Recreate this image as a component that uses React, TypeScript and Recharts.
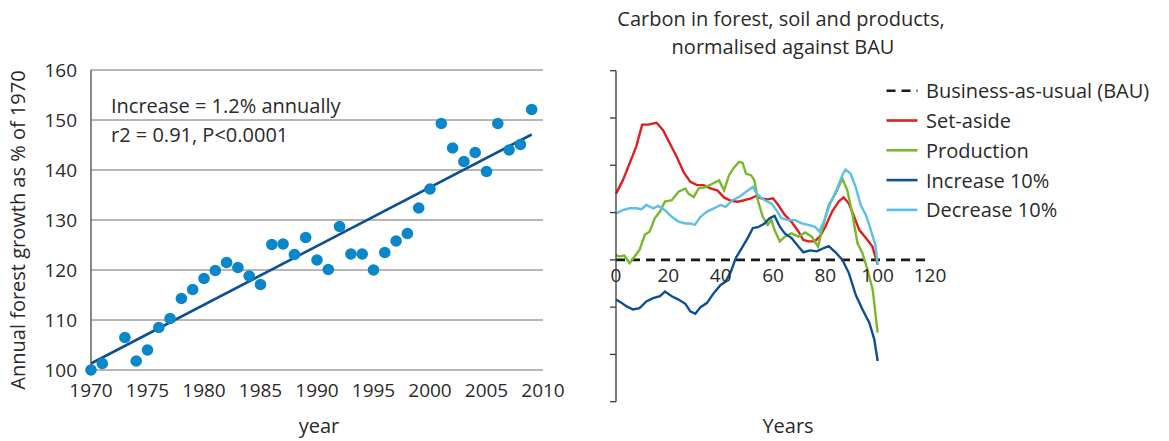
import {
  CartesianGrid,
  ComposedChart,
  Legend,
  Line,
  ReferenceDot,
  Scatter,
  XAxis,
  YAxis,
} from "recharts";

const FONT = "'Open Sans', Lato, sans-serif";
const TEXT = "#2a2a2a";
const DOT = "#0a86cb";
const TREND = "#0d4f94";
const RED = "#dc1f1f";
const GREEN = "#79b82a";
const DARK_BLUE = "#0d4f94";
const LIGHT_BLUE = "#5cbfe8";

// left: annual forest growth
const growthYears = [
  1970, 1971, 1973, 1974, 1975, 1976, 1977, 1978, 1979, 1980, 1981, 1982, 1983,
  1984, 1985, 1986, 1987, 1988, 1989, 1990, 1991, 1992, 1993, 1994, 1995, 1996,
  1997, 1998, 1999, 2000, 2001, 2002, 2003, 2004, 2005, 2006, 2007, 2008, 2009,
];
const growthValues = [
  100, 101.3, 106.5, 101.8, 104, 108.5, 110.3, 114.3, 116.1, 118.3, 119.9, 121.5,
  120.5, 118.8, 117.1, 125.1, 125.2, 123.1, 126.5, 122, 120.1, 128.7, 123.2, 123.2,
  120, 123.5, 125.8, 127.3, 132.4, 136.2, 149.3, 144.4, 141.7, 143.5, 139.7, 149.3,
  144, 145.1, 152.1,
];
const trendYears = [1970, 2009];
const trendValues = [101.3, 147.1];
const yearTicks = [1970, 1975, 1980, 1985, 1990, 1995, 2000, 2005, 2010];
const growthTicks = [100, 110, 120, 130, 140, 150, 160];

// right: carbon normalised against BAU, [year, value]
const carbonTicksX = [0, 20, 40, 60, 80, 100, 120];
const carbonTicksY = [-3, -2, -1, 0, 1, 2, 3, 4];
const bau: [number, number][] = [
  [0, 0],
  [120, 0],
];
const setAside: [number, number][] = [
  [0, 1.4], [2.6, 1.68], [5.2, 2.04], [7.7, 2.39], [10, 2.86], [12.3, 2.86],
  [15.5, 2.9], [18, 2.74], [20.6, 2.46], [23.2, 2.18], [25.8, 1.86], [28.4, 1.65],
  [31, 1.58], [33.5, 1.58], [36.1, 1.51], [38.7, 1.47], [41.3, 1.32], [43.9, 1.25],
  [46.5, 1.23], [49, 1.26], [51.6, 1.3], [53.5, 1.35], [55.5, 1.3], [58, 1.28],
  [60, 1.3], [62, 1.16], [64.5, 0.95], [67, 0.81], [69.7, 0.6], [71.6, 0.42],
  [73.5, 0.39], [76, 0.39], [78, 0.5], [80, 0.7], [82.6, 1.02], [85.2, 1.24],
  [87, 1.32], [89, 1.19], [91, 0.91], [93, 0.63], [95.5, 0.46], [98, 0.28], [100, -0.1],
];
const production: [number, number][] = [
  [0, 0.1], [1.3, 0.07], [3.2, 0.09], [5.2, -0.07], [7.1, 0.07], [9, 0.21],
  [11, 0.53], [12.9, 0.6], [14.8, 0.88], [16.8, 1.02], [18.7, 1.23], [21.3, 1.26],
  [23.9, 1.44], [26.5, 1.51], [27.7, 1.4], [29.7, 1.33], [31.6, 1.51], [34.2, 1.54],
  [36.8, 1.61], [39.4, 1.68], [41.3, 1.47], [43.2, 1.79], [45.2, 1.96], [47.1, 2.07],
  [48.4, 2.05], [49.7, 1.82], [51.6, 1.79], [52.9, 1.68], [54.2, 1.26], [56.1, 0.91],
  [58, 0.74], [59.4, 0.84], [60.6, 0.63], [62.6, 0.39], [64.5, 0.49], [67.1, 0.56],
  [69.7, 0.49], [72.3, 0.58], [74.8, 0.49], [77.2, 0.28], [78.7, 0.63], [81.3, 1.16],
  [83.9, 1.4], [86.5, 1.72], [88.4, 1.47], [90.3, 0.98], [92.3, 0.35], [94.2, 0.14],
  [96.1, -0.21], [98.1, -0.63], [100, -1.54],
];
const increase10: [number, number][] = [
  [0, -0.84], [1.9, -0.9], [3.9, -0.98], [6.5, -1.05], [9, -1.02], [11.6, -0.88],
  [14.2, -0.81], [16.8, -0.77], [18.7, -0.67], [21.3, -0.77], [23.9, -0.84],
  [26.5, -0.93], [28.4, -1.09], [30.3, -1.14], [32.3, -1.0], [34.8, -0.91],
  [37.4, -0.7], [40, -0.53], [41.9, -0.46], [43.9, -0.25], [45.8, 0.04], [48.4, 0.28],
  [50.3, 0.46], [52.3, 0.67], [54.2, 0.69], [56.8, 0.77], [58.7, 0.88], [60.6, 0.93],
  [62.6, 0.7], [64.5, 0.56], [67.1, 0.46], [69.7, 0.28], [71.6, 0.16], [74.2, 0.2],
  [76.8, 0.18], [79.4, 0.25], [81.3, 0.29], [83.9, 0.16], [86.5, 0], [89, -0.28],
  [91.6, -0.74], [94.2, -1.05], [96.8, -1.33], [98.7, -1.68], [100, -2.14],
];
const decrease10: [number, number][] = [
  [0, 0.98], [2.6, 1.05], [5.2, 1.09], [7.7, 1.09], [9.7, 1.07], [11.6, 1.16],
  [14.2, 1.09], [16.1, 1.14], [18.7, 1.05], [21.3, 0.91], [23.9, 0.81], [26.5, 0.77],
  [28.4, 0.77], [30.1, 0.74], [32.3, 0.91], [34.8, 1.02], [37.4, 1.09], [40, 1.16],
  [41.9, 1.12], [44.5, 1.26], [47.1, 1.33], [49.7, 1.44], [52.3, 1.54], [54.2, 1.37],
  [56.8, 1.26], [59.4, 1.19], [61.3, 1.05], [63.2, 0.88], [65.8, 0.84], [68.4, 0.84],
  [71, 0.77], [73.5, 0.74], [76.1, 0.7], [77.7, 0.6], [79.4, 0.81], [81.9, 1.19],
  [84.5, 1.51], [86.5, 1.79], [87.7, 1.91], [89.7, 1.82], [91.6, 1.54], [93.5, 1.16],
  [95.5, 0.95], [97.4, 0.63], [99.1, 0.32], [100, -0.1],
];

const legendOrder = [
  "Business-as-usual (BAU)",
  "Set-aside",
  "Production",
  "Increase 10%",
  "Decrease 10%",
];

const toPoints = (s: [number, number][]) => s.map(([x, y]) => ({ x, y }));

const growthData = growthYears.map((x, i) => ({ x, y: growthValues[i] }));
const trendData = trendYears.map((x, i) => ({ x, y: trendValues[i] }));

const tickStyle = { fill: TEXT, fontSize: 19, fontFamily: FONT };

function CarbonLegend({ payload }: any) {
  const items = [...(payload ?? [])].sort(
    (a: any, b: any) => legendOrder.indexOf(a.value) - legendOrder.indexOf(b.value)
  );
  return (
    <svg width={285} height={150} style={{ overflow: "visible" }}>
      {items.map((p: any, i: number) => (
        <g key={p.value} transform={`translate(0, ${10.7 + i * 29.8})`}>
          <line
            x1={1.5}
            x2={32.5}
            y1={0}
            y2={0}
            stroke={p.color}
            strokeWidth={2.6}
            strokeDasharray={p.value.startsWith("Business") ? "9 6" : undefined}
          />
          <text x={41} y={7.4} fill={TEXT} fontSize={20} fontFamily={FONT}>
            {p.value}
          </text>
        </g>
      ))}
    </svg>
  );
}

const NoTick = () => <g />;

export default function App() {
  return (
    <div style={{ position: "absolute", left: 0, top: 0, width: 1169, height: 441, background: "#fff" }}>
      <div style={{ position: "absolute", left: 0, top: 0 }}>
        <ComposedChart width={580} height={441} margin={{ top: 70, right: 37, bottom: 41, left: 0 }}>
          <CartesianGrid vertical={false} stroke="#6f6f6f" strokeWidth={1} horizontalValues={growthTicks} />
          <XAxis
            type="number"
            dataKey="x"
            domain={[1970, 2010]}
            ticks={yearTicks}
            axisLine={false}
            tickLine={false}
            tickSize={0}
            tickMargin={14}
            height={30}
            tick={tickStyle}
            interval={0}
          />
          <YAxis
            type="number"
            dataKey="y"
            domain={[100, 160]}
            ticks={growthTicks}
            width={91}
            axisLine={{ stroke: "#4a4a4a", strokeWidth: 1.3 }}
            tickLine={false}
            tickSize={0}
            tickMargin={14}
            tick={tickStyle}
            interval={0}
          />
          <Scatter
            data={growthData}
            dataKey="y"
            isAnimationActive={false}
            shape={(p: any) => <circle cx={p.cx} cy={p.cy} r={5.8} fill={DOT} />}
          />
          <Line
            data={trendData}
            dataKey="y"
            type="linear"
            stroke={TREND}
            strokeWidth={2.6}
            dot={false}
            isAnimationActive={false}
          />
        </ComposedChart>
      </div>

      <div style={{ position: "absolute", left: 580, top: 0 }}>
        <ComposedChart width={589} height={441} margin={{ top: 70.7, right: 239, bottom: 39.3, left: 0 }}>
          <XAxis type="number" dataKey="x" domain={[0, 120]} ticks={carbonTicksX} hide />
          <YAxis
            type="number"
            domain={[-3, 4]}
            ticks={carbonTicksY}
            width={36}
            tick={NoTick}
            tickSize={6}
            axisLine={{ stroke: "#3a3a3a", strokeWidth: 1.3 }}
            tickLine={{ stroke: "#3a3a3a", strokeWidth: 1.3 }}
            interval={0}
          />
          <Line data={toPoints(bau)} dataKey="y" name="Business-as-usual (BAU)" stroke="#1a1a1a" strokeWidth={2.6} strokeDasharray="9 6" dot={false} isAnimationActive={false} />
          <Line data={toPoints(setAside)} dataKey="y" name="Set-aside" stroke={RED} strokeWidth={2.4} dot={false} isAnimationActive={false} />
          <Line data={toPoints(production)} dataKey="y" name="Production" stroke={GREEN} strokeWidth={2.4} dot={false} isAnimationActive={false} />
          <Line data={toPoints(increase10)} dataKey="y" name="Increase 10%" stroke={DARK_BLUE} strokeWidth={2.4} dot={false} isAnimationActive={false} />
          <Line data={toPoints(decrease10)} dataKey="y" name="Decrease 10%" stroke={LIGHT_BLUE} strokeWidth={2.4} dot={false} isAnimationActive={false} />
          {carbonTicksX.map((t) => (
            <ReferenceDot
              key={t}
              x={t}
              y={0}
              r={0}
              fill="none"
              stroke="none"
              label={{ value: String(t), position: "bottom", offset: 9, fill: TEXT, fontSize: 19, fontFamily: FONT }}
            />
          ))}
          <Legend
            layout="horizontal"
            verticalAlign="middle"
            align="center"
            content={<CarbonLegend />}
            wrapperStyle={{ top: 80, left: 305, width: 285, height: 150 }}
          />
        </ComposedChart>
      </div>

      <svg
        width={1169}
        height={441}
        style={{ position: "absolute", left: 0, top: 0, pointerEvents: "none" }}
        fontFamily={FONT}
        fill={TEXT}
      >
        <text x={111} y={112.7} fontSize={20}>Increase = 1.2% annually</text>
        <text x={111} y={141.7} fontSize={20}>r2 = 0.91, P&lt;0.0001</text>
        <text transform="translate(25,230) rotate(-90)" textAnchor="middle" fontSize={20}>
          Annual forest growth as % of 1970
        </text>
        <text x={319} y={433} textAnchor="middle" fontSize={20}>year</text>
        <text x={781} y={26} textAnchor="middle" fontSize={20}>Carbon in forest, soil and products,</text>
        <text x={783} y={53.5} textAnchor="middle" fontSize={20}>normalised against BAU</text>
        <text x={788} y={433} textAnchor="middle" fontSize={20}>Years</text>
      </svg>
    </div>
  );
}
